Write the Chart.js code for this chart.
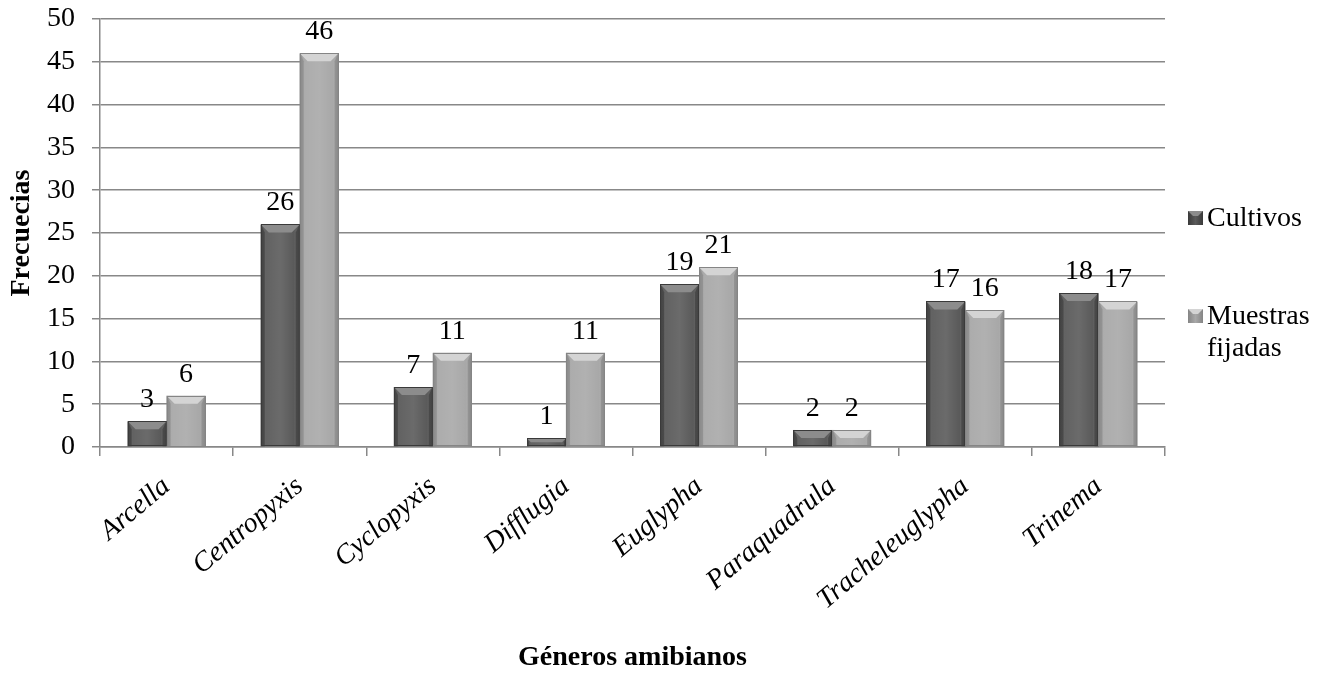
<!DOCTYPE html>
<html>
<head>
<meta charset="utf-8">
<script src="https://cdn.jsdelivr.net/npm/chart.js@4/dist/chart.umd.min.js"></script>
<style>
    html, body { margin: 0; padding: 0; background: #ffffff; }
    #wrap { width: 1331px; height: 675px; }
</style>
</head>
<body>
<div id="wrap"><canvas id="generosChart" width="1331" height="675"></canvas></div>
<script>
// Datos
const generos = ['Arcella', 'Centropyxis', 'Cyclopyxis', 'Difflugia', 'Euglypha', 'Paraquadrula', 'Tracheleuglypha', 'Trinema'];
const cultivos = [3, 26, 7, 1, 19, 2, 17, 18];
const muestrasFijadas = [6, 46, 11, 11, 21, 2, 16, 17];
const yMin = 0;
const yMax = 50;
const yStep = 5;

const serif = "'Liberation Serif', 'Times New Roman', serif";
const gridGray = '#888888';

// Colores de cada serie: base, borde oscuro, bisel claro
const seriesStyle = [
    { label: 'Cultivos', base: '#5a5a5a', dark: '#3a3a3a', light: '#8c8c8c' },
    { label: ['Muestras', 'fijadas'], base: '#a8a8a8', dark: '#858585', light: '#d4d4d4' }
];

// Bevel overlay so the bars look like the embossed Excel ones
const bevelPlugin = {
    id: 'bevel',
    afterDatasetsDraw(chart) {
        const ctx = chart.ctx;
        chart.data.datasets.forEach((ds, i) => {
            const st = seriesStyle[i];
            chart.getDatasetMeta(i).data.forEach(bar => {
                const L = bar.x - bar.width / 2;
                const R = bar.x + bar.width / 2;
                const T = bar.y;
                const B = bar.base;
                const h = B - T;
                const b = Math.min(8, h / 2);
                ctx.save();
                // soft horizontal shading of the body
                const g = ctx.createLinearGradient(L, 0, R, 0);
                g.addColorStop(0, 'rgba(0,0,0,0.18)');
                g.addColorStop(0.15, 'rgba(255,255,255,0.05)');
                g.addColorStop(0.5, 'rgba(255,255,255,0.10)');
                g.addColorStop(0.85, 'rgba(255,255,255,0.0)');
                g.addColorStop(1, 'rgba(0,0,0,0.22)');
                ctx.fillStyle = g;
                ctx.fillRect(L, T, R - L, h);
                // top bevel
                ctx.fillStyle = st.light;
                ctx.beginPath();
                ctx.moveTo(L, T);
                ctx.lineTo(R, T);
                ctx.lineTo(R - b, T + b);
                ctx.lineTo(L + b, T + b);
                ctx.closePath();
                ctx.fill();
                // side bevels
                ctx.fillStyle = st.dark;
                ctx.globalAlpha = 0.6;
                ctx.beginPath();
                ctx.moveTo(L, T);
                ctx.lineTo(L + b * 0.5, T + b);
                ctx.lineTo(L + b * 0.5, B);
                ctx.lineTo(L, B);
                ctx.closePath();
                ctx.fill();
                ctx.beginPath();
                ctx.moveTo(R, T);
                ctx.lineTo(R - b * 0.5, T + b);
                ctx.lineTo(R - b * 0.5, B);
                ctx.lineTo(R, B);
                ctx.closePath();
                ctx.fill();
                ctx.globalAlpha = 1;
                // outline
                ctx.strokeStyle = st.dark;
                ctx.lineWidth = 1;
                ctx.strokeRect(Math.round(L) + 0.5, Math.round(T) + 0.5, Math.round(R - L) - 1, Math.round(h) - 1);
                ctx.restore();
            });
        });
    }
};

// Values on top of each bar
const valueLabels = {
    id: 'valueLabels',
    afterDatasetsDraw(chart) {
        const ctx = chart.ctx;
        ctx.save();
        ctx.font = '28px ' + serif;
        ctx.fillStyle = '#000000';
        ctx.textAlign = 'center';
        ctx.textBaseline = 'alphabetic';
        chart.data.datasets.forEach((ds, i) => {
            chart.getDatasetMeta(i).data.forEach((bar, j) => {
                ctx.fillText(String(ds.data[j]), bar.x, bar.y - 14);
            });
        });
        ctx.restore();
    }
};

// Legend on the right, second entry wraps on two lines
const sideLegend = {
    id: 'sideLegend',
    afterDraw(chart) {
        const ctx = chart.ctx;
        const x0 = chart.chartArea.right + 23;
        const rows = [218, 316];
        ctx.save();
        ctx.font = '28px ' + serif;
        ctx.textBaseline = 'middle';
        ctx.textAlign = 'left';
        seriesStyle.forEach((st, i) => {
            const y = rows[i];
            const g = ctx.createLinearGradient(x0, 0, x0 + 15, 0);
            g.addColorStop(0, st.dark);
            g.addColorStop(0.5, st.base);
            g.addColorStop(1, st.dark);
            ctx.fillStyle = g;
            ctx.fillRect(x0, y - 7, 15, 14);
            ctx.fillStyle = st.light;
            ctx.beginPath();
            ctx.moveTo(x0, y - 7);
            ctx.lineTo(x0 + 15, y - 7);
            ctx.lineTo(x0 + 10, y - 2);
            ctx.lineTo(x0 + 5, y - 2);
            ctx.closePath();
            ctx.fill();
            ctx.fillStyle = '#000000';
            const lines = Array.isArray(st.label) ? st.label : [st.label];
            lines.forEach((t, k) => ctx.fillText(t, x0 + 19, y + 1 + k * 32));
        });
        ctx.restore();
    }
};

const ctx = document.getElementById('generosChart').getContext('2d');

new Chart(ctx, {
    type: 'bar',
    data: {
        labels: generos,
        datasets: [{
            label: 'Cultivos',
            data: cultivos,
            backgroundColor: seriesStyle[0].base,
            categoryPercentage: 0.585,
            barPercentage: 1.0
        }, {
            label: 'Muestras fijadas',
            data: muestrasFijadas,
            backgroundColor: seriesStyle[1].base,
            categoryPercentage: 0.585,
            barPercentage: 1.0
        }]
    },
    options: {
        responsive: false,
        animation: false,
        layout: {
            padding: { top: 19, right: 166, left: 0, bottom: 0 }
        },
        plugins: {
            legend: { display: false },
            tooltip: { enabled: false }
        },
        scales: {
            x: {
                afterFit: scale => {
                    scale.height = 228;
                    scale.paddingLeft = 0;
                    scale.paddingRight = 0;
                },
                grid: {
                    offset: true,
                    drawOnChartArea: false,
                    color: gridGray,
                    lineWidth: 1.5,
                    tickLength: 9
                },
                border: { color: gridGray, width: 1.5 },
                ticks: {
                    autoSkip: false,
                    maxRotation: 40,
                    minRotation: 40,
                    padding: 14,
                    color: '#000000',
                    font: { family: serif, size: 28, style: 'italic' }
                },
                title: {
                    display: true,
                    text: 'Géneros amibianos',
                    color: '#000000',
                    font: { family: serif, size: 28, weight: 'bold' },
                    padding: { top: 0, bottom: 0 }
                }
            },
            y: {
                min: yMin,
                max: yMax,
                afterFit: scale => {
                    scale.width = 100;
                    scale.paddingTop = 0;
                    scale.paddingBottom = 0;
                },
                grid: {
                    color: gridGray,
                    lineWidth: 1.5,
                    tickLength: 8
                },
                border: { color: gridGray, width: 1.5 },
                ticks: {
                    stepSize: yStep,
                    padding: 17,
                    color: '#000000',
                    font: { family: serif, size: 28 }
                },
                title: {
                    display: true,
                    text: 'Frecuecias',
                    color: '#000000',
                    font: { family: serif, size: 28, weight: 'bold' },
                    padding: { top: 5, bottom: 0 }
                }
            }
        }
    },
    plugins: [bevelPlugin, valueLabels, sideLegend]
});
</script>
</body>
</html>
